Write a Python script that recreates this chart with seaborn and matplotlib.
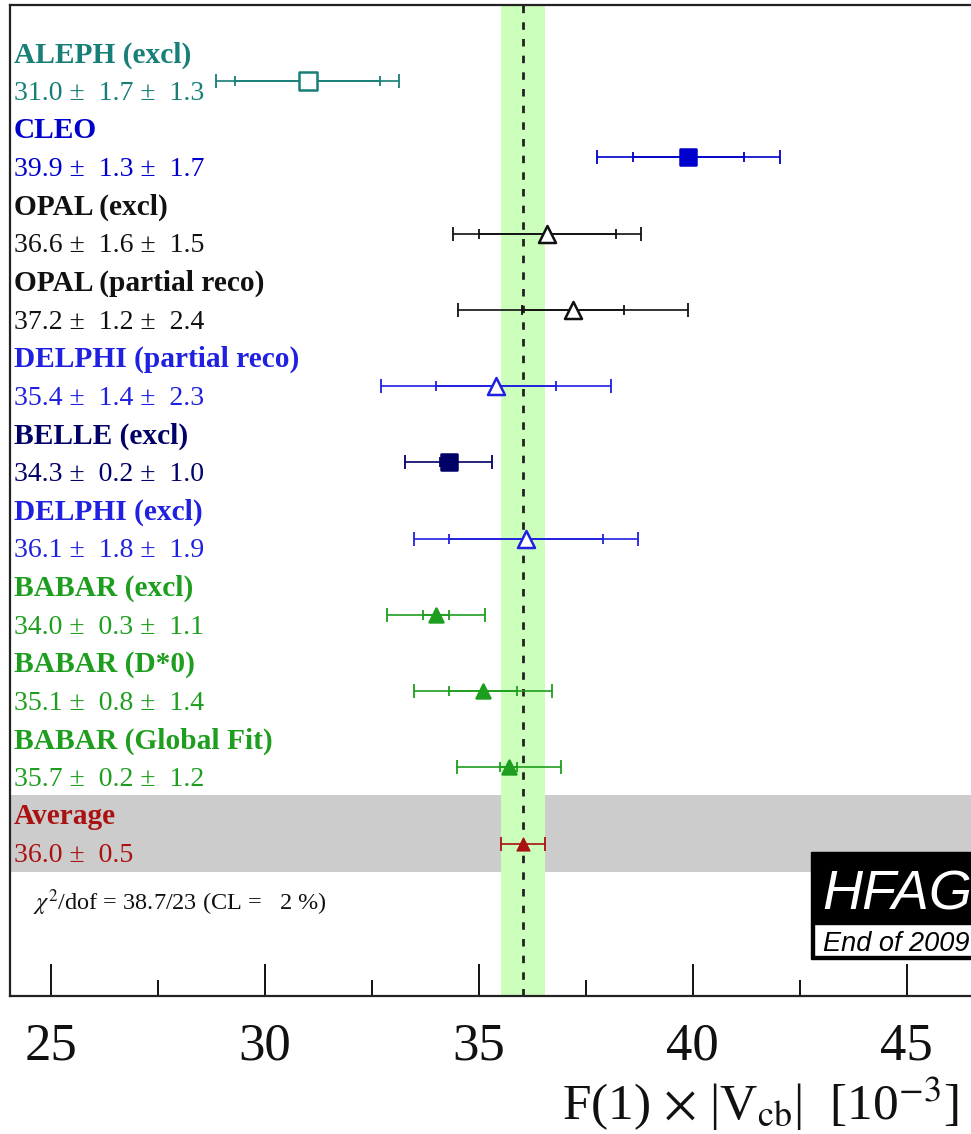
import matplotlib
matplotlib.use("Agg")
import matplotlib.pyplot as plt
import seaborn as sns
import numpy as np
import pandas as pd
from matplotlib.patches import Rectangle
from matplotlib.transforms import blended_transform_factory

# ---------------- data ----------------
labels = ["ALEPH (excl)", "CLEO", "OPAL (excl)", "OPAL (partial reco)",
          "DELPHI (partial reco)", "BELLE (excl)", "DELPHI (excl)",
          "BABAR (excl)", "BABAR (D*0)", "BABAR (Global Fit)"]
values = [31.0, 39.9, 36.6, 37.2, 35.4, 34.3, 36.1, 34.0, 35.1, 35.7]
stat_err = [1.7, 1.3, 1.6, 1.2, 1.4, 0.2, 1.8, 0.3, 0.8, 0.2]
syst_err = [1.3, 1.7, 1.5, 2.4, 2.3, 1.0, 1.9, 1.1, 1.4, 1.2]
colors = ["#177f78", "#0000cc", "#111111", "#111111", "#2020e0",
          "#000066", "#2020e0", "#1e9e1e", "#1e9e1e", "#1e9e1e"]
markers = ["s", "s", "^", "^", "^", "s", "^", "^", "^", "^"]
filled = [False, True, False, False, False, True, False, True, True, True]
msizes = [170, 135, 150, 150, 150, 125, 150, 100, 100, 100]

avg_label = "Average"
avg_value = 36.04
avg_err = 0.51
avg_color = "#aa1111"

chi2_text = r"$\chi^2$/dof = 38.7/23 (CL =   2 %)"
xticks = [25, 30, 35, 40, 45]
minor_xticks = [27.5, 32.5, 37.5, 42.5]
xlabel = r"F(1) $\times$ |V$_{\mathrm{cb}}$|  [10$^{\mathrm{-3}}$]"

df = pd.DataFrame({"label": labels, "value": values, "stat": stat_err,
                   "syst": syst_err, "color": colors, "marker": markers,
                   "filled": filled, "size": msizes})
df["total"] = np.sqrt(df["stat"] ** 2 + df["syst"] ** 2)
df["row"] = np.arange(len(df))

# ---------------- style ----------------
sns.set_theme(style="white")
plt.rcParams["font.family"] = ["Liberation Serif", "DejaVu Serif"]
plt.rcParams["mathtext.fontset"] = "stix"

W, H = 971, 1134
fig = plt.figure(figsize=(W / 100, H / 100), dpi=100)
ax = fig.add_axes([10 / W, (H - 996) / H, (W - 10) / W, 991 / H])

ax.set_xlim(24.05, 46.50)
ax.set_ylim(12.0, -1.0)

# background bands
ax.axhspan(9.365, 10.375, color="#cccccc", lw=0, zorder=0)
ax.axvspan(avg_value - avg_err, avg_value + avg_err, color="#ccffbb", lw=0, zorder=1)
ax.axvline(avg_value, color="#222222", lw=2, ls=(0, (2.7, 3.3)), zorder=2)

trans = blended_transform_factory(ax.transAxes, ax.transData)

for _, r in df.iterrows():
    c = r["color"]
    ax.errorbar(r["value"], r["row"], xerr=r["total"], fmt="none", ecolor=c,
                elinewidth=1.2, capsize=4.8, capthick=1.3, zorder=3)
    ax.errorbar(r["value"], r["row"], xerr=r["stat"], fmt="none", ecolor=c,
                elinewidth=1.2, capsize=3.8, capthick=1.3, zorder=3)
    sub = df[df["row"] == r["row"]]
    sns.scatterplot(data=sub, x="value", y="row", marker=r["marker"], s=r["size"],
                    color=c, facecolor=(c if r["filled"] else "white"),
                    edgecolor=c, linewidth=1.8, ax=ax, zorder=4, legend=False)
    ax.text(0.004, r["row"] - 0.25, r["label"], transform=trans, color=c,
            fontsize=21.2, fontweight="bold", va="baseline", ha="left")
    ax.text(0.004, r["row"] + 0.245,
            f"{r['value']:.1f} \u00b1  {r['stat']:.1f} \u00b1  {r['syst']:.1f}",
            transform=trans, color=c, fontsize=20, va="baseline", ha="left")

# average
avg_row = len(df)
ax.errorbar(avg_value, avg_row, xerr=avg_err, fmt="none", ecolor=avg_color,
            elinewidth=1.2, capsize=4.8, capthick=1.3, zorder=3)
sns.scatterplot(x=[avg_value], y=[avg_row], marker="^", s=85, color=avg_color,
                edgecolor=avg_color, linewidth=1, ax=ax, zorder=4, legend=False)
ax.text(0.004, avg_row - 0.25, avg_label, transform=trans, color=avg_color,
        fontsize=21.2, fontweight="bold", va="baseline", ha="left")
ax.text(0.004, avg_row + 0.245, f"{avg_value:.1f} \u00b1  {avg_err:.1f}",
        transform=trans, color=avg_color, fontsize=20, va="baseline", ha="left")

ax.text(0.024, 10.87, chi2_text, transform=trans, color="#111111",
        fontsize=17.5, va="baseline", ha="left")

# axes styling
ax.set_xlabel("")
ax.set_ylabel("")
ax.set_yticks([])
ax.set_xticks(xticks)
ax.set_xticks(minor_xticks, minor=True)
ax.tick_params(axis="x", which="major", direction="in", length=23, width=1.4,
               color="#111111", labelsize=38, pad=19, bottom=True, top=False)
ax.tick_params(axis="x", which="minor", direction="in", length=11.5, width=1.4,
               color="#111111", bottom=True, top=False)
for lab in ax.get_xticklabels():
    lab.set_color("#111111")
for side in ["left", "top", "bottom"]:
    ax.spines[side].set_visible(True)
    ax.spines[side].set_color("#222222")
    ax.spines[side].set_linewidth(1.6)
ax.spines["right"].set_visible(False)

# x label
fig.text(562 / W, (H - 1120) / H, xlabel, fontsize=37, color="#111111",
         ha="left", va="baseline")

# HFAG logo
fig.patches.append(Rectangle((811 / W, (H - 959) / H), 200 / W, 107 / H,
                             transform=fig.transFigure, facecolor="black",
                             edgecolor="black", zorder=5))
fig.patches.append(Rectangle((814 / W, (H - 956) / H), 200 / W, 32 / H,
                             transform=fig.transFigure, facecolor="white",
                             edgecolor="black", lw=1, zorder=6))
fig.text(822 / W, (H - 910) / H, "HFAG", color="white", fontsize=40,
         family="Liberation Sans", style="italic", ha="left", va="baseline", zorder=7)
fig.text(823 / W, (H - 951) / H, "End of 2009", color="black", fontsize=19.5,
         family="Liberation Sans", style="italic", ha="left", va="baseline", zorder=7)

fig.savefig("out.png", dpi=100)
